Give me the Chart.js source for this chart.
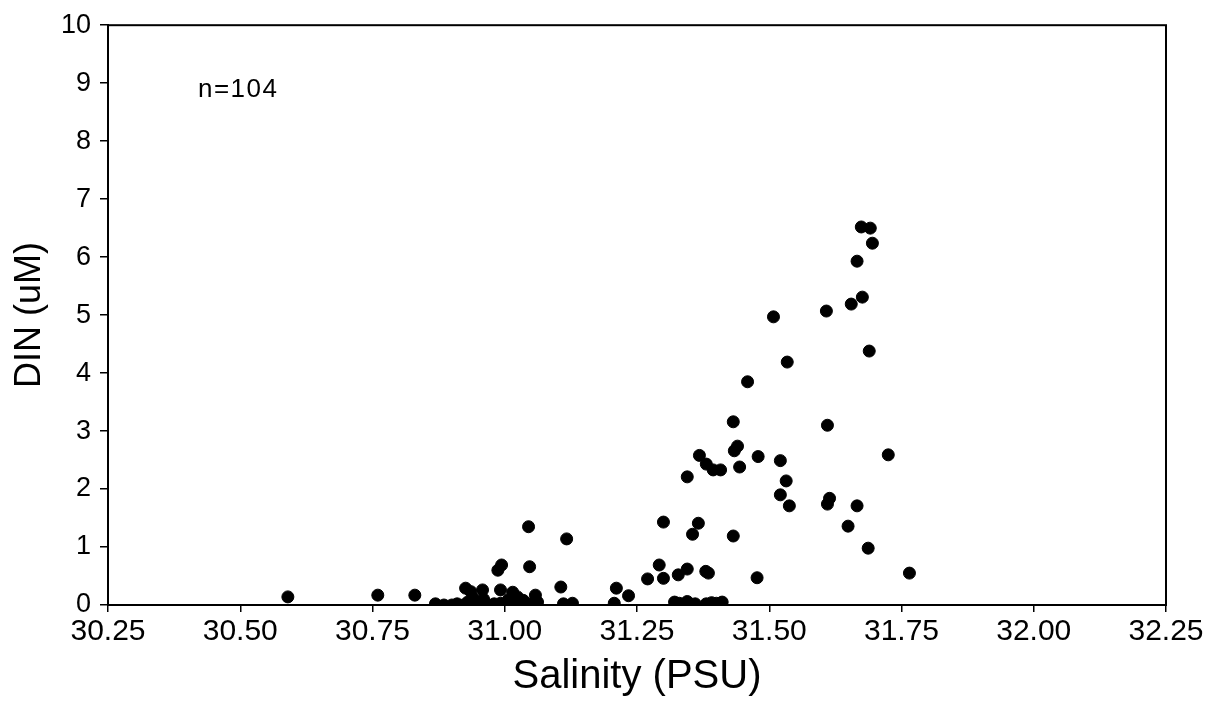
<!DOCTYPE html>
<html>
<head>
<meta charset="utf-8">
<script src="https://cdn.jsdelivr.net/npm/chart.js@4"></script>
<style>
  html, body { margin: 0; padding: 0; background: #fff; }
  #wrap { width: 1221px; height: 706px; }
</style>
</head>
<body>
<div id="wrap"><canvas id="chart"></canvas></div>
<script>
// Salinity (PSU) of each sample
const salinity = [
  30.59, 30.76, 30.83, 30.869, 30.885, 30.90, 30.91, 30.922, 30.926, 30.93,
  30.936, 30.94, 30.951, 30.958, 30.96, 30.968, 30.98, 30.987, 30.992, 30.992,
  30.994, 31.00, 31.007, 31.015, 31.02, 31.024, 31.03, 31.035, 31.043, 31.045,
  31.047, 31.05, 31.058, 31.062, 31.106, 31.111, 31.117, 31.128, 31.207, 31.211,
  31.234, 31.270, 31.292, 31.300, 31.300, 31.321, 31.328, 31.33, 31.345, 31.345,
  31.345, 31.345, 31.355, 31.36, 31.366, 31.368, 31.381, 31.381, 31.38, 31.385,
  31.391, 31.394, 31.40, 31.408, 31.411, 31.432, 31.432, 31.434, 31.440, 31.444,
  31.459, 31.477, 31.479, 31.508, 31.521, 31.521, 31.532, 31.534, 31.538, 31.608,
  31.610, 31.610, 31.614, 31.649, 31.655, 31.666, 31.666, 31.674, 31.676, 31.687,
  31.689, 31.691, 31.695, 31.725, 31.765
];

// DIN (uM) of each sample
const din = [
  0.14, 0.17, 0.17, 0.02, 0.00, 0.00, 0.02, 0.00, 0.29, 0.05,
  0.23, 0.12, 0.05, 0.26, 0.10, 0.00, 0.02, 0.60, 0.26, 0.03,
  0.69, 0.00, 0.09, 0.22, 0.05, 0.14, 0.03, 0.08, 0.00, 1.35,
  0.66, 0.02, 0.17, 0.05, 0.31, 0.02, 1.14, 0.03, 0.03, 0.29,
  0.16, 0.45, 0.69, 0.46, 1.43, 0.05, 0.52, 0.03, 0.62, 0.06,
  0.00, 2.21, 1.22, 0.02, 1.41, 2.58, 0.02, 2.43, 0.58, 0.55,
  0.04, 2.33, 0.03, 2.33, 0.05, 1.19, 3.16, 2.66, 2.74, 2.38,
  3.85, 0.47, 2.56, 4.97, 2.49, 1.90, 2.14, 4.19, 1.71, 5.07,
  3.10, 1.74, 1.84, 1.36, 5.19, 5.93, 1.71, 6.52, 5.31, 0.98,
  4.38, 6.50, 6.24, 2.59, 0.55
];

// Axis ranges and tick steps
const xRange = [30.25, 32.25];
const xStep = 0.25;
const yRange = [0, 10];
const yStep = 1;
const noteText = 'n=104';

const points = salinity.map((s, i) => ({ x: s, y: din[i] }));

const fontFamily = '"Liberation Sans", Arial, sans-serif';

// Frame around the plot area and the n label
const framePlugin = {
  id: 'frame',
  afterDraw(chart) {
    const { ctx, chartArea, scales } = chart;
    ctx.save();
    ctx.strokeStyle = '#000';
    ctx.lineWidth = 2;
    ctx.strokeRect(chartArea.left, chartArea.top, chartArea.right - chartArea.left, chartArea.bottom - chartArea.top);
    ctx.fillStyle = '#000';
    ctx.font = '26px ' + fontFamily;
    ctx.letterSpacing = '1.5px';
    ctx.textBaseline = 'middle';
    ctx.fillText(noteText, scales.x.getPixelForValue(30.42), scales.y.getPixelForValue(8.88));
    ctx.restore();
  }
};

new Chart(document.getElementById('chart'), {
  type: 'scatter',
  data: {
    datasets: [{
      data: points,
      backgroundColor: '#000',
      borderColor: '#000',
      pointRadius: 6,
      pointHoverRadius: 6
    }]
  },
  options: {
    responsive: true,
    maintainAspectRatio: false,
    animation: false,
    layout: { padding: { top: 25, right: 55, left: 0, bottom: 0 } },
    plugins: { legend: { display: false }, tooltip: { enabled: false } },
    scales: {
      x: {
        type: 'linear',
        min: xRange[0],
        max: xRange[1],
        afterFit: (scale) => { scale.height = 101; },
        border: { display: true, color: '#000', width: 2 },
        grid: { drawOnChartArea: false, drawTicks: true, tickLength: 7, color: '#000', lineWidth: 1.5 },
        ticks: {
          stepSize: xStep,
          color: '#000',
          padding: 2,
          maxRotation: 0,
          font: { family: fontFamily, size: 30 },
          callback: (v) => v.toFixed(2)
        },
        title: {
          display: true,
          text: 'Salinity (PSU)',
          color: '#000',
          font: { family: fontFamily, size: 40 },
          padding: { top: 0, bottom: 5 }
        }
      },
      y: {
        type: 'linear',
        min: yRange[0],
        max: yRange[1],
        afterFit: (scale) => { scale.width = 108; },
        border: { display: true, color: '#000', width: 2 },
        grid: { drawOnChartArea: false, drawTicks: true, tickLength: 8, color: '#000', lineWidth: 1.5 },
        ticks: {
          stepSize: yStep,
          color: '#000',
          padding: 9,
          font: { family: fontFamily, size: 27 }
        },
        title: {
          display: true,
          text: 'DIN (uM)',
          color: '#000',
          font: { family: fontFamily, size: 36 },
          padding: { top: 8, bottom: 0 }
        }
      }
    }
  },
  plugins: [framePlugin]
});
</script>
</body>
</html>
